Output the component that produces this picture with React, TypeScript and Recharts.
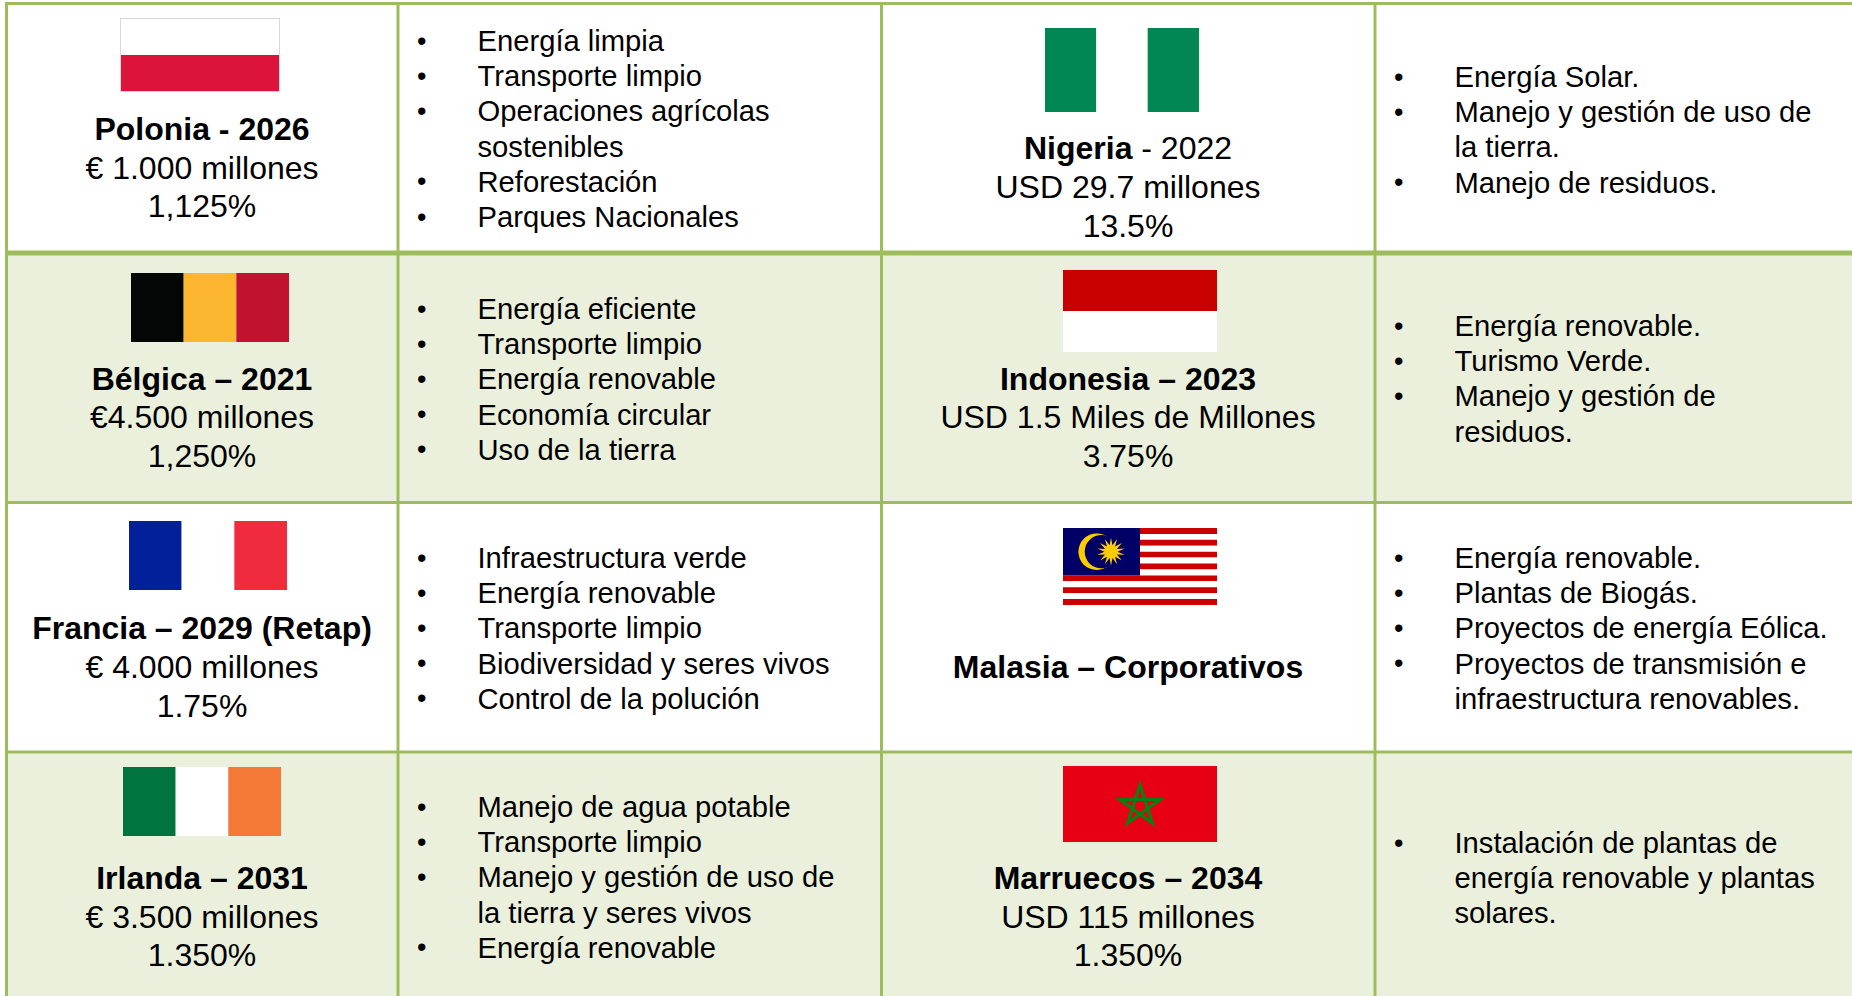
import { ComposedChart, ReferenceArea, ReferenceDot, ReferenceLine, Scatter, XAxis, YAxis } from 'recharts';

// table content, one entry per country, reading order
const titleBold = ['Polonia - 2026', 'Nigeria', 'Bélgica – 2021', 'Indonesia – 2023', 'Francia – 2029 (Retap)', 'Malasia – Corporativos', 'Irlanda – 2031', 'Marruecos – 2034'];
const titleRest = ['', ' - 2022', '', '', '', '', '', ''];
const amounts = ['€ 1.000 millones', 'USD 29.7 millones', '€4.500 millones', 'USD 1.5 Miles de Millones', '€ 4.000 millones', '', '€ 3.500 millones', 'USD 115 millones'];
const rates = ['1,125%', '13.5%', '1,250%', '3.75%', '1.75%', '', '1.350%', '1.350%'];
const projects = [
  [['Energía limpia'], ['Transporte limpio'], ['Operaciones agrícolas', 'sostenibles'], ['Reforestación'], ['Parques Nacionales']],
  [['Energía Solar.'], ['Manejo y gestión de uso de', 'la tierra.'], ['Manejo de residuos.']],
  [['Energía eficiente'], ['Transporte limpio'], ['Energía renovable'], ['Economía circular'], ['Uso de la tierra']],
  [['Energía renovable.'], ['Turismo Verde.'], ['Manejo y gestión de', 'residuos.']],
  [['Infraestructura verde'], ['Energía renovable'], ['Transporte limpio'], ['Biodiversidad y seres vivos'], ['Control de la polución']],
  [['Energía renovable.'], ['Plantas de Biogás.'], ['Proyectos de energía Eólica.'], ['Proyectos de transmisión e', 'infraestructura renovables.']],
  [['Manejo de agua potable'], ['Transporte limpio'], ['Manejo y gestión de uso de', 'la tierra y seres vivos'], ['Energía renovable']],
  [['Instalación de plantas de', 'energía renovable y plantas', 'solares.']],
];

// flag colours, stripes in drawing order
const flagColors = [
  ['#ffffff', '#dc143c'],
  ['#008753', '#ffffff', '#008753'],
  ['#040606', '#fdb62f', '#c1122f'],
  ['#c80000', '#ffffff'],
  ['#03209b', '#ffffff', '#ef2b3d'],
  ['#cc0000', '#ffffff'],
  ['#00733f', '#ffffff', '#f47836'],
  ['#e70013'],
];

// layout, in picture pixels
const W = 1852;
const H = 996;
const LINE = '#9dbd5c';
const BAND = '#ebf0dd';
const summaryX = [202, 1128];
const bulletX = [417, 1394];
const listX = [477.5, 1454.5];
const summaryY = [[140, 179, 217], [159, 198, 237], [390, 428, 467], [390, 428, 467], [639, 677.5, 717], [678], [889, 927.5, 966], [889, 927.5, 966]];
const listY = [51, 87, 319, 336, 568, 568, 817, 853];
const listStep = 35.2;
const flagBoxes = [
  { x1: 121, x2: 279, y1: 19, y2: 91, vertical: false },
  { x1: 1045, x2: 1199, y1: 28, y2: 112, vertical: true },
  { x1: 131, x2: 289, y1: 273, y2: 342, vertical: true },
  { x1: 1063, x2: 1217, y1: 270, y2: 352, vertical: false },
  { x1: 129, x2: 287, y1: 521, y2: 590, vertical: true },
  { x1: 1063, x2: 1217, y1: 528, y2: 605, vertical: false },
  { x1: 123, x2: 281, y1: 767, y2: 836, vertical: true },
  { x1: 1063, x2: 1217, y1: 766, y2: 842, vertical: false },
];

type TextPoint = { px: number; py: number; text: string; rest?: string; anchor: string; size: number; bold?: boolean };

const textPoints: TextPoint[] = [];
titleBold.forEach((title, i) => {
  const col = i % 2;
  const rows = summaryY[i];
  textPoints.push({ px: summaryX[col], py: rows[0], text: title, rest: titleRest[i], anchor: 'middle', size: 32, bold: true });
  if (amounts[i]) textPoints.push({ px: summaryX[col], py: rows[1], text: amounts[i], anchor: 'middle', size: 32 });
  if (rates[i]) textPoints.push({ px: summaryX[col], py: rows[2], text: rates[i], anchor: 'middle', size: 32 });
  let row = 0;
  projects[i].forEach((item) => {
    item.forEach((line, k) => {
      const py = listY[i] + row * listStep;
      if (k === 0) textPoints.push({ px: bulletX[col], py: py - 1.5, text: '•', anchor: 'start', size: 27 });
      textPoints.push({ px: listX[col], py, text: line, anchor: 'start', size: 29.2 });
      row += 1;
    });
  });
});

const TextMark = (props: any) => {
  const p: TextPoint = props.payload;
  return (
    <text x={props.cx} y={props.cy} textAnchor={p.anchor} fontSize={p.size} fontFamily="'Liberation Sans', Arial, sans-serif" fill="#000000">
      <tspan fontWeight={p.bold ? 700 : 400}>{p.text}</tspan>
      {p.rest ? <tspan fontWeight={400}>{p.rest}</tspan> : null}
    </text>
  );
};

const Crescent = (props: any) => (
  <g>
    <circle cx={props.cx} cy={props.cy} r={18.3} fill="#ffcc00" />
    <circle cx={props.cx + 4.6} cy={props.cy} r={16.6} fill="#000066" />
  </g>
);

const Sun = (props: any) => {
  const parts: string[] = [];
  for (let i = 0; i < 28; i++) {
    const r = i % 2 === 0 ? 14 : 6.5;
    const a = (i * Math.PI) / 14 - Math.PI / 2;
    parts.push(`${i === 0 ? 'M' : 'L'}${props.cx + r * Math.cos(a)},${props.cy + r * Math.sin(a)}`);
  }
  return <path d={parts.join(' ') + 'Z'} fill="#ffcc00" />;
};

const Pentagram = (props: any) => {
  const parts: string[] = [];
  for (let i = 0; i < 5; i++) {
    const a = (i * 4 * Math.PI) / 5 - Math.PI / 2;
    parts.push(`${i === 0 ? 'M' : 'L'}${props.cx + 21 * Math.cos(a)},${props.cy + 21 * Math.sin(a)}`);
  }
  return <path d={parts.join(' ') + 'Z'} fill="none" stroke="#0b7f12" strokeWidth={3.2} />;
};

function flagStripes() {
  const out: any[] = [];
  flagBoxes.forEach((box, i) => {
    const colors = flagColors[i];
    if (i === 5) {
      // Malasia: 13 stripes and a canton
      const h = (box.y2 - box.y1) / 13;
      for (let s = 0; s < 13; s++) {
        out.push({ x1: box.x1, x2: box.x2, y1: box.y1 + s * h, y2: box.y1 + (s + 1) * h, fill: colors[s % 2] });
      }
      out.push({ x1: box.x1, x2: 1140, y1: box.y1, y2: box.y1 + 8 * h, fill: '#000066' });
      return;
    }
    colors.forEach((fill, s) => {
      const n = colors.length;
      if (box.vertical) {
        const w = (box.x2 - box.x1) / n;
        out.push({ x1: box.x1 + s * w, x2: box.x1 + (s + 1) * w, y1: box.y1, y2: box.y2, fill });
      } else {
        const h = (box.y2 - box.y1) / n;
        out.push({ x1: box.x1, x2: box.x2, y1: box.y1 + s * h, y2: box.y1 + (s + 1) * h, fill });
      }
    });
  });
  return out;
}

function App() {
  return (
    <div style={{ position: 'absolute', left: 0, top: 0, width: W, height: H, background: '#ffffff' }}>
      <ComposedChart width={W} height={H} data={[]} margin={{ top: 0, right: 0, bottom: 0, left: 0 }}>
        <XAxis type="number" dataKey="px" hide domain={[0, W]} />
        <YAxis type="number" dataKey="py" hide domain={[0, H]} reversed />

        <ReferenceArea x1={6} x2={W} y1={253} y2={502} fill={BAND} fillOpacity={1} stroke="none" />
        <ReferenceArea x1={6} x2={W} y1={752} y2={H} fill={BAND} fillOpacity={1} stroke="none" />

        {[6.5, 398, 881.5, 1375].map((x) => (
          <ReferenceLine key={x} segment={[{ x, y: 2 }, { x, y: H }]} stroke={LINE} strokeWidth={3} />
        ))}
        <ReferenceLine segment={[{ x: 5, y: 3.5 }, { x: W, y: 3.5 }]} stroke={LINE} strokeWidth={3} />
        <ReferenceLine segment={[{ x: 5, y: 253 }, { x: W, y: 253 }]} stroke={LINE} strokeWidth={5} />
        <ReferenceLine segment={[{ x: 5, y: 502.5 }, { x: W, y: 502.5 }]} stroke={LINE} strokeWidth={3} />
        <ReferenceLine segment={[{ x: 5, y: 752 }, { x: W, y: 752 }]} stroke={LINE} strokeWidth={3} />

        <ReferenceArea x1={120} x2={280} y1={18} y2={92} fill="#d9d9d9" fillOpacity={1} stroke="none" />
        {flagStripes().map((s, i) => (
          <ReferenceArea key={i} x1={s.x1} x2={s.x2} y1={s.y1} y2={s.y2} fill={s.fill} fillOpacity={1} stroke="none" />
        ))}

        <ReferenceDot x={1096.7} y={551.7} shape={Crescent} />
        <ReferenceDot x={1111} y={551.7} shape={Sun} />
        <ReferenceDot x={1140} y={806} shape={Pentagram} />

        <Scatter data={textPoints} dataKey="py" shape={TextMark} isAnimationActive={false} />
      </ComposedChart>
    </div>
  );
}

export default App;
